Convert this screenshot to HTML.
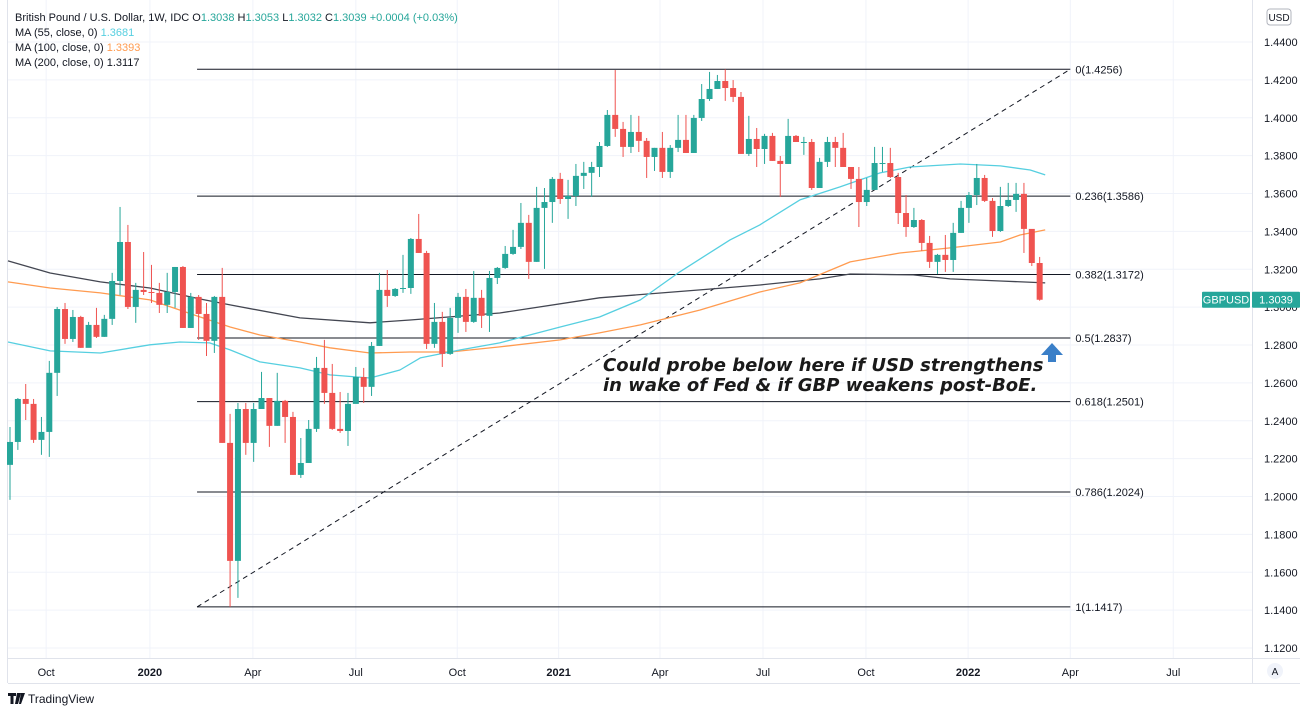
<!DOCTYPE html>
<html><head><meta charset="utf-8"><style>
body{margin:0;background:#fff;width:1304px;height:710px;overflow:hidden;font-family:"Liberation Sans",sans-serif}
svg{position:absolute;left:0;top:0}
</style></head><body>
<svg id="chart" width="1304" height="710"></svg>
<script>
// weekly OHLC data (open = previous close)
const firstOpen = 1.2167;
const closes = [1.2288,1.2515,1.2489,1.2299,1.2341,1.2653,1.299,1.2832,1.2948,1.2785,1.2906,1.2843,1.2938,1.3138,1.3344,1.3001,1.3091,1.308,1.3075,1.3012,1.308,1.3212,1.289,1.3054,1.2964,1.2822,1.3054,1.2283,1.166,1.2462,1.2283,1.2462,1.252,1.2373,1.2505,1.242,1.2114,1.2177,1.2357,1.2679,1.2547,1.2357,1.2346,1.2489,1.2631,1.2579,1.2795,1.3091,1.3059,1.3096,1.3101,1.336,1.3286,1.2806,1.2922,1.2753,1.2943,1.3054,1.2922,1.3049,1.2954,1.3154,1.3207,1.3281,1.3318,1.3445,1.3239,1.3524,1.3555,1.3677,1.3571,1.3587,1.3693,1.3709,1.374,1.3851,1.4015,1.3941,1.3846,1.3925,1.3878,1.3793,1.3841,1.3714,1.3841,1.3883,1.3814,1.3999,1.4099,1.4152,1.4194,1.4157,1.411,1.3809,1.3888,1.3835,1.3904,1.3772,1.3756,1.3904,1.3872,1.3872,1.3629,1.3767,1.3872,1.3841,1.374,1.3677,1.3555,1.3619,1.3761,1.3761,1.3687,1.3497,1.3423,1.346,1.3339,1.3239,1.3276,1.3249,1.3392,1.3524,1.3592,1.3682,1.3561,1.3402,1.3534,1.3566,1.3598,1.3413,1.3233,1.3039];
const highs = [1.2367,1.252,1.2594,1.2515,1.242,1.2716,1.3001,1.3022,1.2985,1.2954,1.2922,1.2996,1.2959,1.3181,1.3529,1.3434,1.3128,1.3291,1.3223,1.3128,1.3181,1.3212,1.3217,1.3075,1.3064,1.3022,1.3059,1.3207,1.2436,1.2494,1.2494,1.2494,1.2658,1.252,1.2653,1.251,1.2447,1.2309,1.2404,1.2737,1.2827,1.27,1.2552,1.2547,1.2684,1.2679,1.2816,1.3181,1.3196,1.3101,1.3276,1.3365,1.3492,1.3297,1.3022,1.2975,1.2996,1.3075,1.3096,1.3191,1.3091,1.3191,1.3212,1.3323,1.3408,1.355,1.3487,1.3635,1.3629,1.3687,1.3709,1.3672,1.3756,1.3767,1.3767,1.3872,1.4041,1.4252,1.3978,1.4015,1.401,1.3893,1.3841,1.3925,1.3856,1.4015,1.4015,1.4015,1.4178,1.4242,1.4226,1.4256,1.4199,1.4136,1.401,1.3946,1.3915,1.392,1.3798,1.3994,1.3909,1.3899,1.3888,1.3788,1.3899,1.3899,1.392,1.3735,1.374,1.3682,1.3846,1.3846,1.3841,1.3709,1.3592,1.3524,1.3465,1.3376,1.3281,1.3381,1.3445,1.3561,1.3608,1.3756,1.3698,1.3576,1.3635,1.3656,1.3656,1.3656,1.3387,1.3265];
const lows = [1.1982,1.2246,1.2404,1.2283,1.222,1.2209,1.2531,1.2806,1.2816,1.2785,1.279,1.2837,1.2843,1.2906,1.3064,1.299,1.2917,1.3064,1.3022,1.2969,1.2969,1.2996,1.289,1.289,1.2827,1.2742,1.2758,1.2283,1.1417,1.1465,1.222,1.2183,1.2462,1.2262,1.2373,1.2283,1.2114,1.2098,1.2183,1.2341,1.2489,1.2352,1.2336,1.2267,1.2494,1.2494,1.2531,1.2795,1.3001,1.3054,1.3075,1.307,1.3286,1.2779,1.2785,1.2684,1.2748,1.2864,1.2869,1.2917,1.289,1.2869,1.3122,1.3202,1.3276,1.3307,1.3149,1.3239,1.3202,1.3445,1.3545,1.3466,1.3534,1.3624,1.3582,1.3687,1.3846,1.3899,1.3793,1.3814,1.3819,1.3682,1.3719,1.3682,1.3682,1.3819,1.3814,1.3814,1.3983,1.4089,1.4152,1.4089,1.4083,1.3809,1.3798,1.374,1.3756,1.3772,1.3582,1.3756,1.3872,1.3804,1.3619,1.3629,1.374,1.374,1.374,1.3624,1.3423,1.3534,1.3619,1.3714,1.3682,1.3439,1.3371,1.3418,1.3297,1.3207,1.3175,1.3186,1.3186,1.3392,1.3445,1.3539,1.3555,1.3371,1.3397,1.3529,1.3503,1.3286,1.3217,1.3034];
// moving averages sampled (week index, value)
const ma55Idx = [-0.25,5.1,11.5,17.8,21.6,25.4,28,31.8,36.9,40.7,45.8,49.6,52.2,57.3,62.3,70,75,80.2,85.2,91.6,95.4,100.5,105.6,110.7,114.5,120.9,126,129.8,131.7];
const ma55Val = [1.2816,1.2769,1.2758,1.2801,1.2816,1.2811,1.2774,1.2711,1.2679,1.2642,1.2626,1.2668,1.2732,1.2774,1.2811,1.2895,1.2948,1.3038,1.3186,1.3355,1.3434,1.3566,1.3635,1.3709,1.374,1.3756,1.3746,1.3724,1.3698];
const ma100Idx = [-0.25,5.1,11.5,17.8,24.2,28,31.8,36.9,40.7,45.8,50.9,56,62.3,70,75,80.2,87.8,95.4,100.5,106.9,113.2,119.6,126,128.5,131.7];
const ma100Val = [1.3133,1.3101,1.3075,1.3038,1.2948,1.2895,1.2853,1.2816,1.2785,1.2758,1.2763,1.2763,1.279,1.2827,1.2864,1.2906,1.2985,1.308,1.3128,1.3239,1.3286,1.3313,1.3344,1.3381,1.3408];
const ma200Idx = [-0.25,5.1,11.5,17.8,24.2,28,36.9,45.8,50.9,62.3,75,87.8,95.4,103,106.9,114.9,119.6,126,131.7];
const ma200Val = [1.3244,1.318,1.3133,1.3101,1.3043,1.3012,1.2943,1.2917,1.2932,1.2969,1.3049,1.3091,1.3117,1.3149,1.3175,1.317,1.3149,1.3138,1.3128];
const fibLevels = [0,0.236,0.382,0.5,0.618,0.786,1];
const fibPrices = [1.4256,1.3586,1.3172,1.2837,1.2501,1.2024,1.1417];
const fibStartIdx = 23.8, fibEndIdx = 134.9;
const yTicks = [1.44,1.42,1.40,1.38,1.36,1.34,1.32,1.30,1.28,1.26,1.24,1.22,1.20,1.18,1.16,1.14,1.12];
const xTickLabels = ['Oct','2020','Apr','Jul','Oct','2021','Apr','Jul','Oct','2022','Apr','Jul'];
const xTickIdx = [4.6,17.8,30.9,44,56.9,69.8,82.7,95.8,108.9,121.9,134.9,148];

const NS='http://www.w3.org/2000/svg';
const svg=document.getElementById('chart');
const X=i=>10+i*7.86;
const Y=p=>42+(1.44-p)*1893.75;
function el(tag,attrs,parent){const e=document.createElementNS(NS,tag);for(const k in attrs)e.setAttribute(k,attrs[k]);(parent||svg).appendChild(e);return e;}

// grid
const grid=el('g',{});


yTicks.forEach(t=>{el('line',{x1:8,x2:1252,y1:Y(t),y2:Y(t),stroke:'#f0f3fa','stroke-width':1},grid);});
xTickIdx.forEach(t=>{el('line',{x1:X(t),x2:X(t),y1:0,y2:658,stroke:'#f0f3fa','stroke-width':1},grid);});
// frame
el('line',{x1:1252.5,x2:1252.5,y1:0,y2:683,stroke:'#e0e3eb'});
el('line',{x1:8,x2:1300,y1:658.5,y2:658.5,stroke:'#e0e3eb'});
el('line',{x1:8,x2:1300,y1:683.5,y2:683.5,stroke:'#e0e3eb'});
el('line',{x1:7.5,x2:7.5,y1:0,y2:683,stroke:'#e0e3eb'});

// fib lines
fibLevels.forEach((l,k)=>{
  const p=fibPrices[k];
  const ln=el('line',{x1:X(fibStartIdx),x2:X(fibEndIdx),y1:Y(p),y2:Y(p),stroke:'#131722','stroke-width':1});
  
  
  const tx=el('text',{x:X(fibEndIdx)+5,y:Y(p)+4,'font-size':11,fill:'#131722','font-family':'Liberation Sans, sans-serif'});
  tx.textContent=l+'('+p.toFixed(4)+')';
  
  
});
const trend=el('line',{x1:X(fibStartIdx),y1:Y(fibPrices[6]),x2:X(fibEndIdx),y2:Y(fibPrices[0]),stroke:'#131722','stroke-width':1,'stroke-dasharray':'5,4'});



// MA lines
function maPath(idx,val,color,name){
  let d='';idx.forEach((i,k)=>{d+=(k?'L':'M')+X(i).toFixed(1)+','+Y(val[k]).toFixed(1);});
  const p=el('path',{d:d,fill:'none',stroke:color,'stroke-width':1.3,'stroke-linejoin':'round'});
  
  
}
maPath(ma200Idx,ma200Val,'#434651','ma200-line');
maPath(ma100Idx,ma100Val,'#ff9b50','ma100-line');
maPath(ma55Idx,ma55Val,'#56cfe0','ma55-line');

// candles
const cg=el('g',{});


closes.forEach((c,i)=>{
  const o=i?closes[i-1]:firstOpen;
  const up=c>=o;const col=up?'#26a69a':'#ef5350';
  const g=el('g',{},cg);
  
  
  const x=X(i);
  el('line',{x1:x,x2:x,y1:Y(highs[i]),y2:Y(lows[i]),stroke:col,'stroke-width':1},g);
  const top=Y(Math.max(o,c)),bot=Y(Math.min(o,c));
  el('rect',{x:x-3,y:top,width:6,height:Math.max(1,bot-top),fill:col},g);
});

// y axis labels
yTicks.forEach(t=>{
  const tx=el('text',{x:1264,y:Y(t)+4,'font-size':11,fill:'#131722'});
  tx.textContent=t.toFixed(4);
  
  
});
// x axis labels
xTickLabels.forEach((l,k)=>{
  const tx=el('text',{x:X(xTickIdx[k]),y:676,'font-size':11,fill:'#131722','text-anchor':'middle','font-weight':/^20/.test(l)?'bold':'normal'});
  tx.textContent=l;
  
  
});

// last price labels
const lastP=closes[closes.length-1];
const ly=Y(lastP);
const lg=el('g',{});


el('rect',{x:1202,y:ly-8,width:48,height:16,fill:'#26a69a',rx:1},lg);
el('rect',{x:1252,y:ly-8,width:48,height:16,fill:'#26a69a',rx:1},lg);
const t1=el('text',{x:1226,y:ly+4,'font-size':11,fill:'#fff','text-anchor':'middle'},lg);t1.textContent='GBPUSD';
const t2=el('text',{x:1276,y:ly+4,'font-size':11,fill:'#fff','text-anchor':'middle'},lg);t2.textContent=lastP.toFixed(4);
</script>
<svg width="1304" height="710" style="pointer-events:none">
  <rect x="1267" y="9" width="24" height="16" rx="3" fill="#fff" stroke="#b2b5be"/>
  <text x="1279" y="21" font-size="10" fill="#131722" text-anchor="middle" font-family="Liberation Sans, sans-serif">USD</text>
  <circle cx="1275" cy="671" r="8" fill="#f0f3fa"/>
  <text x="1275" y="675" font-size="10" fill="#131722" text-anchor="middle" font-family="Liberation Sans, sans-serif">A</text>
  <g font-family="Liberation Sans, sans-serif" font-size="11" fill="#131722">
    <text x="15" y="21">British Pound / U.S. Dollar, 1W, IDC  O<tspan fill="#26a69a">1.3038</tspan>  H<tspan fill="#26a69a">1.3053</tspan>  L<tspan fill="#26a69a">1.3032</tspan>  C<tspan fill="#26a69a">1.3039</tspan> <tspan fill="#26a69a">+0.0004 (+0.03%)</tspan></text>
    <text x="15" y="36">MA (55, close, 0)  <tspan fill="#56cfe0">1.3681</tspan></text>
    <text x="15" y="51">MA (100, close, 0)  <tspan fill="#ff9b50">1.3393</tspan></text>
    <text x="15" y="66">MA (200, close, 0)  1.3117</text>
  </g>
  <g font-family="DejaVu Sans, sans-serif" font-size="18" font-weight="bold" font-style="italic" fill="#1a1a1a">
    <text x="603" y="371">Could probe below here if USD strengthens</text>
    <text x="603" y="391">in wake of Fed &amp; if GBP weakens post-BoE.</text>
  </g>
  <path d="M1052 343 L1063 355 L1056 355 L1056 362 L1048 362 L1048 355 L1041 355 Z" fill="#3a7fc8"/>
  <g>
    <path d="M8 693 h8 v3 h-2.5 v8 h-3 v-8 h-2.5z M17 693 h4 l-3 11 h-3z M21 693 h4 l-4 11h-2z" fill="#131722"/>
    <text x="28" y="703" font-size="12" fill="#131722" font-family="Liberation Sans, sans-serif">TradingView</text>
  </g>
</svg>
</body></html>
